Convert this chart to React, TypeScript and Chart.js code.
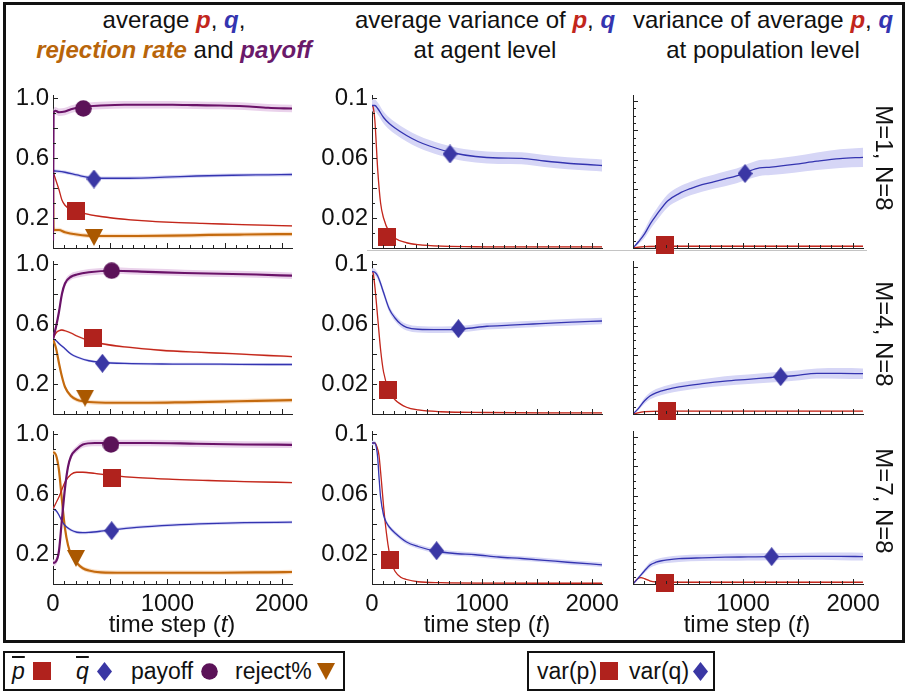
import React, { useEffect, useRef } from "react";
import { Chart, registerables } from "chart.js";

Chart.register(...registerables);

const SANS = "'Liberation Sans', Arial, Helvetica, sans-serif";
const TICK_FONT = "'Liberation Sans', Arial, sans-serif";

// ---------------- tick labels / text ----------------
const X_MAX = 2090;
const X_TICKS = [0, 1000, 2000];
const Y_TICKS_MEAN = [0.2, 0.6, 1.0];
const Y_LABELS_MEAN = ["0.2", "0.6", "1.0"];
const Y_TICKS_AGENT = [0.02, 0.06, 0.1];
const Y_LABELS_AGENT = ["0.02", "0.06", "0.1"];
const ROW_LABELS = ["M=1, N=8", "M=4, N=8", "M=7, N=8"];

// ---------------- column 1 : averages ----------------
// M=1
const r1c1_p_t = [0, 26, 52, 78, 105, 157, 261, 418, 679, 993, 1306, 1568, 1829, 2090];
const r1c1_p = [0.51, 0.45, 0.39, 0.32, 0.285, 0.255, 0.233, 0.21, 0.188, 0.173, 0.164, 0.158, 0.152, 0.147];
const r1c1_q_t = [0, 105, 209, 314, 418, 627, 836, 1045, 1254, 1568, 1881, 2090];
const r1c1_q = [0.515, 0.505, 0.487, 0.47, 0.465, 0.465, 0.468, 0.474, 0.48, 0.485, 0.488, 0.49];
const r1c1_pay_t = [0, 5, 21, 52, 105, 157, 209, 314, 418, 627, 836, 1045, 1254, 1463, 1672, 1881, 2090];
const r1c1_pay = [0.05, 0.9, 0.915, 0.905, 0.91, 0.925, 0.935, 0.945, 0.95, 0.955, 0.955, 0.955, 0.952, 0.95, 0.945, 0.935, 0.93];
const r1c1_rej_t = [0, 5, 52, 105, 209, 366, 732, 1045, 1359, 1672, 2090];
const r1c1_rej = [0.5, 0.12, 0.12, 0.105, 0.09, 0.08, 0.08, 0.082, 0.087, 0.09, 0.093];
// M=4
const r2c1_p_t = [0, 26, 52, 78, 105, 157, 209, 314, 418, 627, 941, 1254, 1568, 1881, 2090];
const r2c1_p = [0.5, 0.54, 0.555, 0.56, 0.555, 0.54, 0.52, 0.49, 0.47, 0.447, 0.425, 0.412, 0.402, 0.39, 0.383];
const r2c1_q_t = [0, 26, 52, 105, 157, 209, 314, 418, 627, 1045, 1463, 1881, 2090];
const r2c1_q = [0.5, 0.49, 0.47, 0.435, 0.4, 0.38, 0.355, 0.345, 0.337, 0.333, 0.332, 0.33, 0.33];
const r2c1_pay_t = [0, 26, 52, 78, 105, 157, 209, 314, 523, 836, 1150, 1463, 1777, 2090];
const r2c1_pay = [0.5, 0.58, 0.68, 0.8, 0.87, 0.915, 0.93, 0.945, 0.955, 0.948, 0.94, 0.935, 0.93, 0.922];
const r2c1_rej_t = [0, 26, 52, 78, 105, 157, 209, 314, 523, 836, 1150, 1463, 1777, 2090];
const r2c1_rej = [0.5, 0.44, 0.34, 0.25, 0.18, 0.12, 0.095, 0.08, 0.075, 0.075, 0.078, 0.082, 0.088, 0.092];
// M=7
const r3c1_p_t = [0, 26, 52, 78, 105, 157, 209, 261, 366, 523, 784, 1045, 1359, 1672, 2090];
const r3c1_p = [0.5, 0.54, 0.58, 0.63, 0.68, 0.73, 0.745, 0.745, 0.737, 0.722, 0.707, 0.698, 0.69, 0.683, 0.676];
const r3c1_q_t = [0, 26, 52, 78, 105, 157, 209, 261, 314, 418, 523, 732, 1045, 1359, 1672, 2090];
const r3c1_q = [0.5, 0.49, 0.46, 0.42, 0.39, 0.36, 0.345, 0.342, 0.344, 0.352, 0.362, 0.378, 0.393, 0.403, 0.409, 0.412];
const r3c1_pay_t = [0, 26, 52, 78, 105, 131, 157, 209, 261, 366, 523, 836, 1254, 1672, 2090];
const r3c1_pay = [0.14, 0.15, 0.22, 0.43, 0.64, 0.78, 0.85, 0.9, 0.93, 0.94, 0.94, 0.94, 0.935, 0.93, 0.928];
const r3c1_rej_t = [0, 26, 52, 78, 105, 131, 157, 209, 261, 314, 418, 627, 1045, 1463, 1881, 2090];
const r3c1_rej = [0.88, 0.86, 0.76, 0.56, 0.37, 0.26, 0.2, 0.14, 0.105, 0.09, 0.078, 0.075, 0.075, 0.075, 0.078, 0.08];

// ---------------- column 2 : average variance (agent level) ----------------
const r1c2_p_t = [0, 10, 26, 52, 78, 105, 157, 209, 314, 418, 627, 1045, 1568, 2090];
const r1c2_p = [0.095, 0.094, 0.085, 0.052, 0.03, 0.02, 0.0105, 0.0065, 0.0035, 0.0022, 0.0012, 0.0008, 0.0007, 0.0007];
const r1c2_q_t = [0, 26, 52, 105, 157, 209, 314, 418, 523, 732, 941, 1150, 1359, 1568, 1777, 1986, 2090];
const r1c2_q = [0.095, 0.095, 0.093, 0.087, 0.083, 0.08, 0.075, 0.071, 0.068, 0.0635, 0.061, 0.06, 0.0598, 0.058, 0.0565, 0.0555, 0.055];
const r2c2_p_t = [0, 10, 26, 52, 78, 105, 157, 209, 314, 418, 627, 1045, 1568, 2090];
const r2c2_p = [0.095, 0.094, 0.085, 0.064, 0.043, 0.028, 0.015, 0.0095, 0.0045, 0.0027, 0.0015, 0.001, 0.0008, 0.0008];
const r2c2_q_t = [0, 26, 52, 78, 105, 157, 209, 261, 314, 418, 627, 836, 1045, 1254, 1463, 1672, 1881, 2090];
const r2c2_q = [0.095, 0.0945, 0.092, 0.087, 0.081, 0.07, 0.064, 0.06, 0.0578, 0.0565, 0.0562, 0.0568, 0.0585, 0.0592, 0.06, 0.0608, 0.0614, 0.062];
const r3c2_p_t = [0, 26, 42, 63, 84, 105, 131, 157, 183, 209, 261, 314, 418, 627, 1045, 1568, 2090];
const r3c2_p = [0.094, 0.094, 0.092, 0.086, 0.07, 0.052, 0.034, 0.021, 0.013, 0.0085, 0.0045, 0.003, 0.0015, 0.0009, 0.0006, 0.0005, 0.0005];
const r3c2_q_t = [0, 26, 42, 52, 63, 78, 105, 131, 157, 209, 314, 418, 575, 732, 941, 1150, 1359, 1568, 1777, 2090];
const r3c2_q = [0.094, 0.094, 0.09, 0.084, 0.072, 0.058, 0.046, 0.041, 0.038, 0.034, 0.028, 0.025, 0.022, 0.0205, 0.0195, 0.018, 0.017, 0.0158, 0.0145, 0.0128];

// ---------------- column 3 : variance of average (population level, arb. units) ----------------
const r1c3_p_t = [0, 105, 314, 1045, 2090];
const r1c3_p = [0, 0.05, 0.06, 0.06, 0.06];
const r1c3_q_t = [0, 52, 105, 157, 209, 314, 418, 523, 627, 732, 836, 941, 1045, 1150, 1254, 1463, 1672, 1881, 2090];
const r1c3_q = [0, 0.22, 0.48, 0.82, 1.1, 1.6, 1.85, 2.02, 2.15, 2.25, 2.35, 2.45, 2.6, 2.72, 2.75, 2.84, 2.95, 3.04, 3.08];
const r1c3_q_hw = [0, 0.08, 0.14, 0.18, 0.2, 0.22, 0.23, 0.23, 0.24, 0.24, 0.25, 0.25, 0.26, 0.27, 0.27, 0.28, 0.3, 0.32, 0.33];
const r2c3_p_t = [0, 105, 314, 1045, 1568, 2090];
const r2c3_p = [0, 0.08, 0.1, 0.1, 0.1, 0.1];
const r2c3_q_t = [0, 52, 105, 157, 209, 314, 418, 627, 836, 1045, 1254, 1463, 1672, 1881, 2090];
const r2c3_q = [0, 0.2, 0.45, 0.62, 0.72, 0.84, 0.92, 1.03, 1.12, 1.18, 1.24, 1.3, 1.38, 1.38, 1.37];
const r2c3_q_hw = [0, 0.06, 0.1, 0.12, 0.13, 0.14, 0.15, 0.15, 0.16, 0.16, 0.17, 0.17, 0.17, 0.18, 0.18];
const r3c3_p_t = [0, 42, 73, 105, 157, 209, 314, 627, 1045, 2090];
const r3c3_p = [0, 0.18, 0.22, 0.18, 0.1, 0.07, 0.06, 0.06, 0.06, 0.06];
const r3c3_q_t = [0, 52, 105, 157, 209, 261, 314, 418, 627, 836, 1045, 1254, 1568, 1881, 2090];
const r3c3_q = [0, 0.22, 0.45, 0.65, 0.74, 0.79, 0.82, 0.86, 0.89, 0.91, 0.92, 0.93, 0.94, 0.94, 0.93];
const r3c3_q_hw = [0, 0.05, 0.08, 0.1, 0.1, 0.1, 0.11, 0.11, 0.11, 0.12, 0.12, 0.12, 0.12, 0.13, 0.13];

// ---------------- marker positions [t, value] ----------------
const mk_r1c1 = { p: [201, 0.247], q: [358, 0.46], pay: [265, 0.93], rej: [358, 0.07] };
const mk_r2c1 = { p: [352, 0.505], q: [432, 0.338], pay: [513, 0.955], rej: [280, 0.105] };
const mk_r3c1 = { p: [513, 0.705], q: [513, 0.355], pay: [507, 0.93], rej: [201, 0.17] };
const mk_r1c2 = { p: [139, 0.0072], q: [709, 0.0627] };
const mk_r2c2 = { p: [142, 0.0163], q: [785, 0.0569] };
const mk_r3c2 = { p: [164, 0.0163], q: [587, 0.0222] };
const mk_r1c3 = { p: [291, 0.09], q: [1018, 2.53] };
const mk_r2c3 = { p: [306, 0.1], q: [1342, 1.27] };
const mk_r3c3 = { p: [291, 0.03], q: [1260, 0.93] };

// ---------------- styles ----------------
const RED = "#c2261c";
const BLUE = "#3434b0";
const PURPLE = "#6a1268";
const ORANGE = "#c46a0e";
const STYLE: Record<string, any> = {
  p: { line: RED, band: "#f6cbbf", width: 1.3, marker: "square", mk: "#b0221d" },
  q: { line: BLUE, band: "#d6d6f6", width: 1.3, marker: "diamond", mk: "#3a37a4" },
  pay: { line: PURPLE, band: "#ead2eb", width: 2.2, marker: "circle", mk: "#5b1258" },
  rej: { line: ORANGE, band: "#fbe1c8", width: 2.2, marker: "tri", mk: "#aa5800" },
};

type SeriesSpec = { key: string; t: number[]; v: number[]; hw: number | number[]; mark: number[] };
type PanelSpec = { row: number; col: number; series: SeriesSpec[] };

const PANELS: PanelSpec[] = [
  { row: 0, col: 0, series: [
    { key: "pay", t: r1c1_pay_t, v: r1c1_pay, hw: 0.025, mark: mk_r1c1.pay },
    { key: "q", t: r1c1_q_t, v: r1c1_q, hw: 0.012, mark: mk_r1c1.q },
    { key: "p", t: r1c1_p_t, v: r1c1_p, hw: 0.005, mark: mk_r1c1.p },
    { key: "rej", t: r1c1_rej_t, v: r1c1_rej, hw: 0.015, mark: mk_r1c1.rej } ] },
  { row: 1, col: 0, series: [
    { key: "pay", t: r2c1_pay_t, v: r2c1_pay, hw: 0.022, mark: mk_r2c1.pay },
    { key: "q", t: r2c1_q_t, v: r2c1_q, hw: 0.008, mark: mk_r2c1.q },
    { key: "p", t: r2c1_p_t, v: r2c1_p, hw: 0.006, mark: mk_r2c1.p },
    { key: "rej", t: r2c1_rej_t, v: r2c1_rej, hw: 0.015, mark: mk_r2c1.rej } ] },
  { row: 2, col: 0, series: [
    { key: "pay", t: r3c1_pay_t, v: r3c1_pay, hw: 0.022, mark: mk_r3c1.pay },
    { key: "q", t: r3c1_q_t, v: r3c1_q, hw: 0.01, mark: mk_r3c1.q },
    { key: "p", t: r3c1_p_t, v: r3c1_p, hw: 0.005, mark: mk_r3c1.p },
    { key: "rej", t: r3c1_rej_t, v: r3c1_rej, hw: 0.015, mark: mk_r3c1.rej } ] },
  { row: 0, col: 1, series: [
    { key: "q", t: r1c2_q_t, v: r1c2_q, hw: 0.004, mark: mk_r1c2.q },
    { key: "p", t: r1c2_p_t, v: r1c2_p, hw: 0.0004, mark: mk_r1c2.p } ] },
  { row: 1, col: 1, series: [
    { key: "q", t: r2c2_q_t, v: r2c2_q, hw: 0.0022, mark: mk_r2c2.q },
    { key: "p", t: r2c2_p_t, v: r2c2_p, hw: 0.0004, mark: mk_r2c2.p } ] },
  { row: 2, col: 1, series: [
    { key: "q", t: r3c2_q_t, v: r3c2_q, hw: 0.0015, mark: mk_r3c2.q },
    { key: "p", t: r3c2_p_t, v: r3c2_p, hw: 0.0004, mark: mk_r3c2.p } ] },
  { row: 0, col: 2, series: [
    { key: "q", t: r1c3_q_t, v: r1c3_q, hw: r1c3_q_hw, mark: mk_r1c3.q },
    { key: "p", t: r1c3_p_t, v: r1c3_p, hw: 0.02, mark: mk_r1c3.p } ] },
  { row: 1, col: 2, series: [
    { key: "q", t: r2c3_q_t, v: r2c3_q, hw: r2c3_q_hw, mark: mk_r2c3.q },
    { key: "p", t: r2c3_p_t, v: r2c3_p, hw: 0.02, mark: mk_r2c3.p } ] },
  { row: 2, col: 2, series: [
    { key: "q", t: r3c3_q_t, v: r3c3_q, hw: r3c3_q_hw, mark: mk_r3c3.q },
    { key: "p", t: r3c3_p_t, v: r3c3_p, hw: 0.02, mark: mk_r3c3.p } ] },
];

// ---------------- layout ----------------
const COL_L = [53, 372, 633];
const COL_R = [292, 602, 863];
const ROW_T = [95, 261, 431];
const ROW_B = [248, 414, 584];
const PAD_L = [48, 58, 16];
const PAD_T = 20;
const PAD_R = 34;
const PAD_B = [20, 20, 40];
const Y_MAX = [1.02, 0.102, 5.2];
const Y_STEP = [0.1, 0.01, 0.25];
const Y_MAJOR_EVERY = [2, 2, 4];

function markerCanvas(kind: string, color: string): HTMLCanvasElement {
  const c = document.createElement("canvas");
  let w = 18, h = 18;
  if (kind === "diamond") { w = 15; h = 19; }
  if (kind === "circle") { w = 17; h = 17; }
  if (kind === "tri") { w = 18; h = 17; }
  c.width = w; c.height = h;
  const g = c.getContext("2d")!;
  g.fillStyle = color;
  g.beginPath();
  if (kind === "square") g.rect(0, 0, w, h);
  else if (kind === "diamond") { g.moveTo(w / 2, 0); g.lineTo(w, h / 2); g.lineTo(w / 2, h); g.lineTo(0, h / 2); g.closePath(); }
  else if (kind === "circle") g.arc(w / 2, h / 2, w / 2 - 0.2, 0, Math.PI * 2);
  else { g.moveTo(0, 0); g.lineTo(w, 0); g.lineTo(w / 2, h); g.closePath(); }
  g.fill();
  return c;
}

const tickMarks = {
  id: "tickMarks",
  afterDraw(chart: any, _a: any, opts: any) {
    const { ctx, chartArea } = chart;
    const xs = chart.scales.x, ys = chart.scales.y;
    ctx.save();
    ctx.strokeStyle = "#222";
    ctx.lineWidth = 1;
    for (let i = 0; i <= 20; i++) {
      const px = Math.round(xs.getPixelForValue(i * 100)) + 0.5;
      const len = i % 5 === 0 ? 5 : 3;
      ctx.beginPath(); ctx.moveTo(px, chartArea.bottom); ctx.lineTo(px, chartArea.bottom - len); ctx.stroke();
    }
    const n = Math.floor(opts.yMax / opts.yStep + 1e-6);
    for (let i = 0; i <= n; i++) {
      const py = Math.round(ys.getPixelForValue(i * opts.yStep)) + 0.5;
      const len = i % opts.yMajor === 0 ? 5 : 3;
      ctx.beginPath(); ctx.moveTo(chartArea.left, py); ctx.lineTo(chartArea.left + len, py); ctx.stroke();
    }
    ctx.restore();
  },
};

function buildConfig(spec: PanelSpec): any {
  const { row, col } = spec;
  const datasets: any[] = [];
  spec.series.forEach((s) => {
    const st = STYLE[s.key];
    const hwAt = (i: number) => (Array.isArray(s.hw) ? s.hw[i] : s.hw);
    const lower = s.t.map((t, i) => ({ x: t, y: Math.max(0, s.v[i] - hwAt(i)) }));
    const upper = s.t.map((t, i) => ({ x: t, y: s.v[i] + hwAt(i) }));
    const lowIdx = datasets.length;
    datasets.push({ data: lower, borderWidth: 0, borderColor: "rgba(0,0,0,0)", pointRadius: 0, fill: false, order: 10, cubicInterpolationMode: "monotone" });
    datasets.push({ data: upper, borderWidth: 0, borderColor: "rgba(0,0,0,0)", pointRadius: 0, fill: { target: lowIdx }, backgroundColor: st.band, order: 10, cubicInterpolationMode: "monotone" });
  });
  spec.series.forEach((s) => {
    const st = STYLE[s.key];
    datasets.push({ data: s.t.map((t, i) => ({ x: t, y: s.v[i] })), borderColor: st.line, borderWidth: st.width, pointRadius: 0, fill: false, order: 5, cubicInterpolationMode: "monotone" });
  });
  spec.series.forEach((s) => {
    const st = STYLE[s.key];
    datasets.push({ data: [{ x: s.mark[0], y: s.mark[1] }], showLine: false, pointRadius: 9, pointStyle: markerCanvas(st.marker, st.mk), order: 1, clip: false });
  });
  const showX = row === 2;
  const yTicks = col === 0 ? Y_TICKS_MEAN : Y_TICKS_AGENT;
  const yLabels = col === 0 ? Y_LABELS_MEAN : Y_LABELS_AGENT;
  const tickFont = { family: TICK_FONT, size: 24 };
  return {
    type: "line",
    data: { datasets },
    plugins: [tickMarks],
    options: {
      animation: false,
      responsive: false,
      devicePixelRatio: 1,
      events: [],
      layout: { padding: { top: PAD_T, right: PAD_R, left: 0, bottom: 0 } },
      plugins: { legend: { display: false }, tooltip: { enabled: false }, tickMarks: { yMax: Y_MAX[col], yStep: Y_STEP[col], yMajor: Y_MAJOR_EVERY[col] } },
      scales: {
        x: {
          type: "linear", min: 0, max: X_MAX,
          grid: { display: false, drawTicks: false },
          border: { display: true, color: "#222", width: 1 },
          ticks: { display: showX, font: tickFont, color: "#111", padding: 6, maxRotation: 0, autoSkip: false,
            callback: (v: number) => (col === 2 && v === 0 ? "" : String(v)) },
          afterBuildTicks: (s: any) => { s.ticks = X_TICKS.map((value) => ({ value })); },
          afterFit: (s: any) => { s.height = PAD_B[row]; },
        },
        y: {
          type: "linear", min: 0, max: Y_MAX[col],
          grid: { display: false, drawTicks: false },
          border: { display: true, color: "#222", width: 1 },
          ticks: { display: col < 2, font: tickFont, color: "#111", padding: 4, autoSkip: false,
            callback: (_v: number, i: number) => yLabels[i] },
          afterBuildTicks: (s: any) => { s.ticks = yTicks.map((value) => ({ value })); },
          afterFit: (s: any) => { s.width = PAD_L[col]; },
        },
      },
    },
  };
}

function Panel({ spec }: { spec: PanelSpec }) {
  const ref = useRef<HTMLCanvasElement>(null);
  const { row, col } = spec;
  const left = COL_L[col] - PAD_L[col];
  const top = ROW_T[row] - PAD_T;
  const w = COL_R[col] - COL_L[col] + PAD_L[col] + PAD_R;
  const h = ROW_B[row] - ROW_T[row] + PAD_T + PAD_B[row];
  useEffect(() => {
    const chart = new Chart(ref.current as HTMLCanvasElement, buildConfig(spec));
    return () => chart.destroy();
  }, []);
  return <canvas ref={ref} width={w} height={h} style={{ position: "absolute", left, top, width: w, height: h }} />;
}

const em = (color: string, s: string) => (
  <span style={{ color, fontWeight: "bold", fontStyle: "italic" }}>{s}</span>
);

function Mk({ kind, color, left, top }: { kind: string; color: string; left: number; top: number }) {
  let w = 18, h = 18, shape: any = <rect x={0} y={0} width={18} height={18} fill={color} />;
  if (kind === "diamond") { w = 15; h = 19; shape = <polygon points="7.5,0 15,9.5 7.5,19 0,9.5" fill={color} />; }
  if (kind === "circle") { w = 17; h = 17; shape = <circle cx={8.5} cy={8.5} r={8.3} fill={color} />; }
  if (kind === "tri") { w = 18; h = 17; shape = <polygon points="0,0 18,0 9,17" fill={color} />; }
  return <svg width={w} height={h} style={{ position: "absolute", left, top }}>{shape}</svg>;
}

export default function App() {
  const text = (s: any, cx: number, cy: number, extra: any = {}) => (
    <div style={{ position: "absolute", left: cx - 200, top: cy - 14, width: 400, height: 28, lineHeight: "28px", textAlign: "center", whiteSpace: "nowrap", ...extra }}>{s}</div>
  );
  const lt = (s: any, left: number) => (
    <div style={{ position: "absolute", left, top: 657, height: 28, lineHeight: "28px", whiteSpace: "nowrap" }}>{s}</div>
  );
  const bar = (s: string) => <span style={{ fontStyle: "italic", textDecoration: "overline" }}>{s}</span>;
  return (
    <div style={{ position: "absolute", left: 0, top: 0, width: 907, height: 693, background: "#fff", fontFamily: SANS, fontSize: 23, color: "#111", overflow: "hidden" }}>
      <div style={{ position: "absolute", left: 3, top: 2, width: 902, height: 641, border: "3px solid #111", boxSizing: "border-box" }} />
      <div style={{ position: "absolute", left: 367, top: 250, width: 500, height: 1, background: "#c4c4c4" }} />
      <div style={{ fontSize: 24 }}>
        {text(<>average {em(RED, "p")}, {em(BLUE, "q")},</>, 174, 20)}
        {text(<>{em("#b8650a", "rejection rate")} and {em("#6a1a6a", "payoff")}</>, 174, 50)}
        {text(<>average variance of {em(RED, "p")}, {em(BLUE, "q")}</>, 485, 20)}
        {text("at agent level", 485, 50)}
        {text(<>variance of average {em(RED, "p")}, {em(BLUE, "q")}</>, 763, 20)}
        {text("at population level", 763, 50)}
      </div>
      {PANELS.map((p) => <Panel key={p.row + "-" + p.col} spec={p} />)}
      {ROW_LABELS.map((s, i) => text(s, 884, [158, 334, 501][i], { transform: "rotate(90deg)", fontSize: 24 }))}
      {[172, 487, 747].map((cx) => text(<>time step (<i>t</i>)</>, cx, 624, { fontSize: 24 }))}
      <div style={{ position: "absolute", left: 3, top: 651, width: 342, height: 40, border: "2.5px solid #111", boxSizing: "border-box" }} />
      <div style={{ position: "absolute", left: 527, top: 651, width: 188, height: 40, border: "2.5px solid #111", boxSizing: "border-box" }} />
      {lt(bar("p"), 12)}
      <Mk kind="square" color={STYLE.p.mk} left={33} top={662} />
      {lt(bar("q"), 76)}
      <Mk kind="diamond" color={STYLE.q.mk} left={97} top={662} />
      {lt("payoff", 131)}
      <Mk kind="circle" color={STYLE.pay.mk} left={201} top={663} />
      {lt("reject%", 235)}
      <Mk kind="tri" color={STYLE.rej.mk} left={317} top={663} />
      {lt("var(p)", 537)}
      <Mk kind="square" color={STYLE.p.mk} left={600} top={662} />
      {lt("var(q)", 629)}
      <Mk kind="diamond" color={STYLE.q.mk} left={693} top={662} />
    </div>
  );
}
